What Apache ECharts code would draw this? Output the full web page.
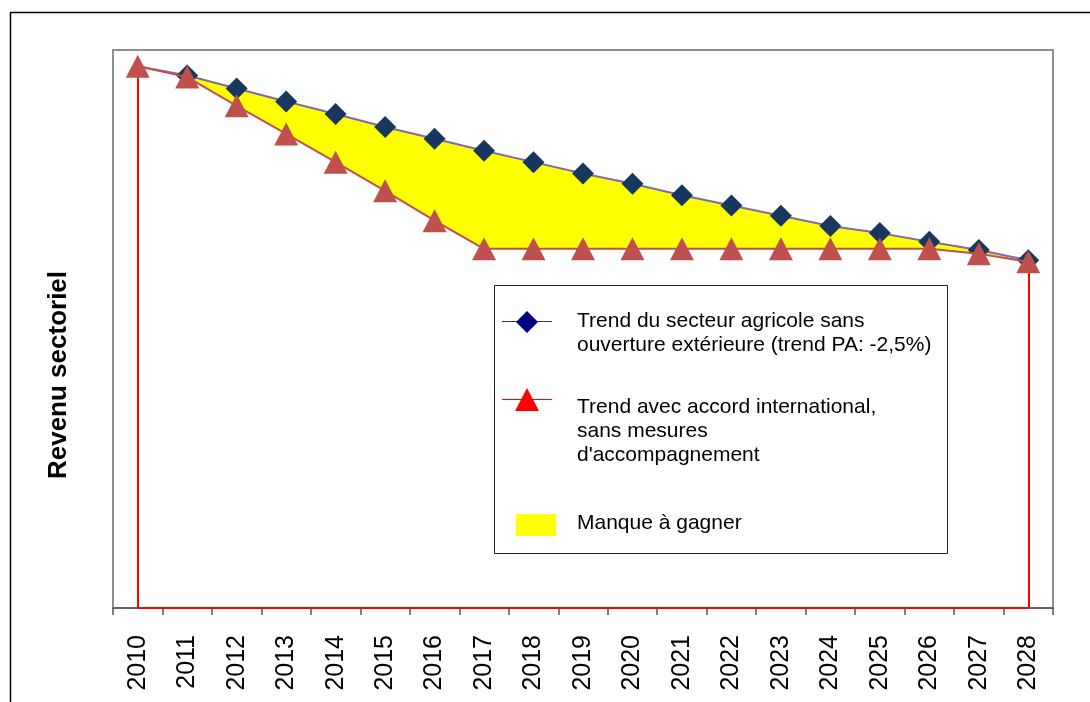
<!DOCTYPE html>
<html>
<head>
<meta charset="utf-8">
<script src="https://cdn.jsdelivr.net/npm/echarts@6/dist/echarts.min.js"></script>
<style>
html,body{margin:0;padding:0;background:#fff;}
#chart{width:1090px;height:702px;}
</style>
</head>
<body>
<div id="chart"></div>
<script>
// Categories (years)
const years = ['2010','2011','2012','2013','2014','2015','2016','2017','2018','2019',
               '2020','2021','2022','2023','2024','2025','2026','2027','2028'];
// Trend du secteur agricole sans ouverture extérieure (diamonds)
const trendSansOuverture = [100, 98.3, 95.9, 93.5, 91.2, 88.8, 86.6, 84.4, 82.3, 80.2,
                            78.3, 76.2, 74.3, 72.4, 70.5, 69.2, 67.6, 66.1, 64.2];
// Trend avec accord international, sans mesures d'accompagnement (triangles)
const trendAvecAccord = [100, 98.0, 92.7, 87.5, 82.3, 77.0, 71.5, 66.3, 66.3, 66.3,
                         66.3, 66.3, 66.3, 66.3, 66.3, 66.3, 66.3, 65.4, 63.9];
// Series / legend names
const nameTrend = 'Trend du secteur agricole sans\nouverture extérieure (trend PA: -2,5%)';
const nameAccord = "Trend avec accord international,\nsans mesures\nd'accompagnement";
const nameManque = 'Manque à gagner';
const yTitle = 'Revenu sectoriel';

// derived: gap between the two trends (for the filled area)
const manque = trendSansOuverture.map((v, i) => Math.max(0, +(v - trendAvecAccord[i]).toFixed(2)));

const chart = echarts.init(document.getElementById('chart'), null, {renderer: 'canvas'});
const FONT = '"Liberation Sans", Arial, sans-serif';
const lastIdx = years.length - 1;

const option = {
  animation: false,
  backgroundColor: '#fff',
  grid: {
    left: 113, right: 37, top: 50, bottom: 94,
    show: true, borderColor: '#8f8f8f', borderWidth: 2, backgroundColor: 'transparent'
  },
  xAxis: {
    type: 'category',
    data: years,
    boundaryGap: true,
    axisLine: {show: true, lineStyle: {color: '#555', width: 1.5}},
    axisTick: {show: true, length: 7, lineStyle: {color: '#555', width: 1.5}},
    axisLabel: {rotate: 90, fontSize: 25, color: '#000', margin: 27, fontFamily: FONT},
    splitLine: {show: false}
  },
  yAxis: {
    type: 'value',
    min: 0, max: 103,
    axisLine: {show: false},
    axisTick: {show: false},
    axisLabel: {show: false},
    splitLine: {show: false},
    name: yTitle,
    nameLocation: 'middle',
    nameRotate: 90,
    nameGap: 41,
    nameTextStyle: {fontSize: 26, fontWeight: 'bold', color: '#000', fontFamily: FONT, padding: [0, 92, 0, 0]}
  },
  series: [
    {
      name: 'base', type: 'line', stack: 'gap', data: trendAvecAccord,
      symbol: 'none', silent: true, z: 2,
      lineStyle: {opacity: 0},
      markLine: {
        silent: true, symbol: 'none', z: 2,
        lineStyle: {color: '#ff0000', width: 2, type: 'solid', opacity: 1},
        label: {show: false},
        emphasis: {disabled: true},
        data: [
          [{coord: [0, trendAvecAccord[0]]}, {coord: [0, 0]}],
          [{coord: [lastIdx, trendAvecAccord[lastIdx]]}, {coord: [lastIdx, 0]}],
          [{coord: [0, 0]}, {coord: [lastIdx, 0]}]
        ]
      }
    },
    {
      name: nameManque, type: 'line', stack: 'gap', data: manque,
      symbol: 'none', silent: true, z: 2,
      lineStyle: {opacity: 0},
      areaStyle: {color: '#ffff00', opacity: 1}
    },
    {
      name: nameTrend, type: 'line', data: trendSansOuverture, z: 5,
      symbol: 'diamond',
      symbolSize: (v, p) => (p.dataIndex === 0 ? 0 : 22),
      lineStyle: {color: '#7f68ad', width: 2},
      itemStyle: {color: '#17375e'}
    },
    {
      name: nameAccord, type: 'line', data: trendAvecAccord, z: 6,
      symbol: 'triangle', symbolSize: [24, 23],
      lineStyle: {color: '#c0504d', width: 2},
      itemStyle: {color: '#c0504d'}
    }
  ],
  graphic: [
    // outer chart frame
    {type: 'rect', shape: {x: 10.5, y: 12.5, width: 1200, height: 800},
     style: {fill: 'none', stroke: '#000', lineWidth: 1.5}, silent: true, z: 0},
    // legend box
    {type: 'rect', shape: {x: 494.5, y: 285.5, width: 453, height: 268},
     style: {fill: '#fff', stroke: '#222', lineWidth: 1}, z: 20},
    {type: 'line', shape: {x1: 502, y1: 321.5, x2: 552, y2: 321.5},
     style: {stroke: '#2a2aa8', lineWidth: 1.2}, z: 21},
    {type: 'polygon', shape: {points: [[527, 311], [538, 322], [527, 333], [516, 322]]},
     style: {fill: '#000080'}, z: 22},
    {type: 'text', left: 577, top: 309, z: 21,
     style: {text: nameTrend, font: '21px ' + FONT, fill: '#000', lineHeight: 24}},
    {type: 'line', shape: {x1: 502, y1: 399.5, x2: 552, y2: 399.5},
     style: {stroke: '#ff0000', lineWidth: 1.2}, z: 21},
    {type: 'polygon', shape: {points: [[527, 388], [539, 411], [515, 411]]},
     style: {fill: '#ff0000'}, z: 22},
    {type: 'text', left: 577, top: 395, z: 21,
     style: {text: nameAccord, font: '21px ' + FONT, fill: '#000', lineHeight: 24}},
    {type: 'rect', shape: {x: 516, y: 514, width: 40, height: 22},
     style: {fill: '#ffff00'}, z: 21},
    {type: 'text', left: 577, top: 511, z: 21,
     style: {text: nameManque, font: '21px ' + FONT, fill: '#000', lineHeight: 24}}
  ]
};
chart.setOption(option);
</script>
</body>
</html>
